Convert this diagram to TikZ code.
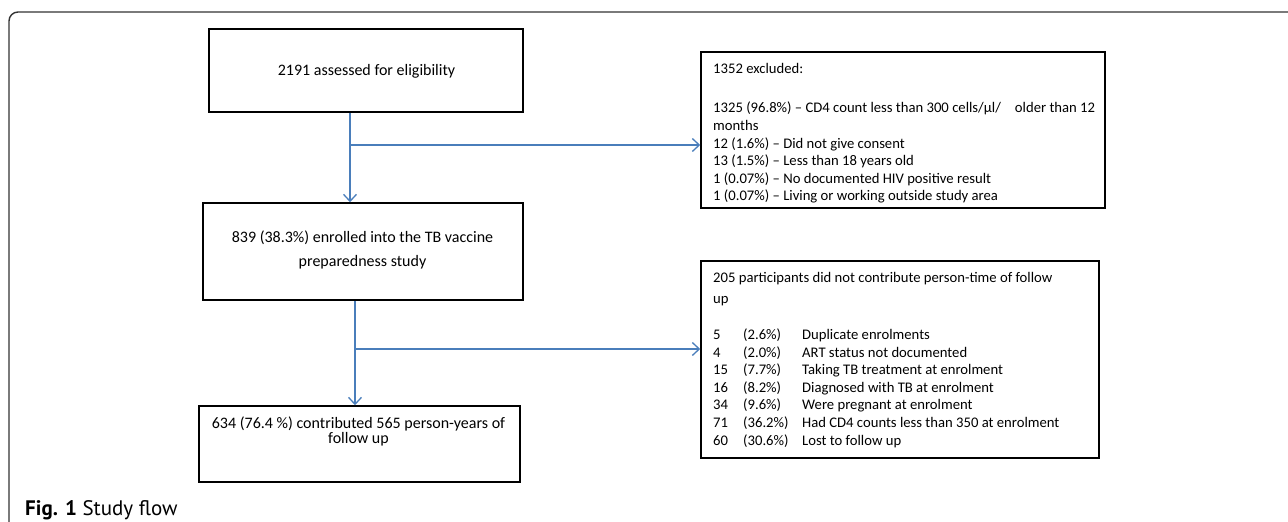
\documentclass[tikz,border=0pt]{standalone}
\usepackage{fontspec}
\setmainfont{Carlito}
\newfontfamily\capfont{PT Sans}
\usetikzlibrary{arrows.meta}
\definecolor{arrblue}{HTML}{4A7EBB}
\definecolor{framegray}{HTML}{333333}
\tikzset{
  box/.style={draw=black, line width=1.5pt, inner sep=0pt, fill=none},
  arr/.style={draw=arrblue, line width=1.3pt, -{Straight Barb[length=7pt,width=13pt,line width=1.3pt]}},
  txt/.style={inner sep=0pt, font=\fontsize{14.67}{17.6}\selectfont},
  bigtxt/.style={inner sep=0pt, font=\fontsize{16}{19.2}\selectfont},
}
\begin{document}
\begin{tikzpicture}[x=1pt,y=-1pt]
\useasboundingbox (0,0) rectangle (1288,522);
% outer frame
\draw[framegray, line width=1.4pt, rounded corners=9pt] (9,522) -- (9,12) -- (1288,12);
% boxes
\node[box, minimum width=314pt, minimum height=83pt] (b1) at (366,70.5) {};
\node[box, minimum width=320pt, minimum height=97pt] (b2) at (363,251.5) {};
\node[box, minimum width=321pt, minimum height=76pt] (b3) at (359.5,444) {};
\node[box, minimum width=404pt, minimum height=156pt] (r1) at (903,130) {};
\node[box, minimum width=398pt, minimum height=197pt] (r2) at (900,359.5) {};
% box texts
\node[bigtxt, anchor=base] (t1) at (366.5,75) {2191 assessed for eligibility};
\node[bigtxt, align=center] (t2) at (362.5,250) {839 (38.3\%) enrolled into the TB vaccine\\[4pt]preparedness study};
\node[bigtxt, align=center] (t3) at (358.5,431.5) {634 (76.4 \%) contributed 565 person-years of\\[-4pt]follow up};
\node[txt, align=left, anchor=north west] (tr1) at (713,63) {1352 excluded:\\[22pt]
1325 (96.8\%) – CD4 count less than 300 cells/µl/\hspace{14pt}older than 12\\
months\\
12 (1.6\%) – Did not give consent\\
13 (1.5\%) – Less than 18 years old\\
1 (0.07\%) – No documented HIV positive result\\
1 (0.07\%) – Living or working outside study area};
\node[txt, align=left, anchor=north west] (tr2) at (713,272) {205 participants did not contribute person-time of follow\\[4pt]
up\\[18pt]
\makebox[30pt][l]{5}\makebox[59pt][l]{(2.6\%)}Duplicate enrolments\\
\makebox[30pt][l]{4}\makebox[59pt][l]{(2.0\%)}ART status not documented\\
\makebox[30pt][l]{15}\makebox[59pt][l]{(7.7\%)}Taking TB treatment at enrolment\\
\makebox[30pt][l]{16}\makebox[59pt][l]{(8.2\%)}Diagnosed with TB at enrolment\\
\makebox[30pt][l]{34}\makebox[59pt][l]{(9.6\%)}Were pregnant at enrolment\\
\makebox[30pt][l]{71}\makebox[59pt][l]{(36.2\%)}Had CD4 counts less than 350 at enrolment\\
\makebox[30pt][l]{60}\makebox[59pt][l]{(30.6\%)}Lost to follow up};
% connectors
\coordinate (a1) at (350,0);
\coordinate (a2) at (355,0);
\coordinate (j1) at (350,145);
\coordinate (j2) at (355,349);
\draw[arr] (b1.south -| a1) -- (b2.north -| a1);
\draw[arr] (j1) -- (j1 -| r1.west);
\draw[arr] (b2.south -| a2) -- (b3.north -| a2);
\draw[arr] (j2) -- (j2 -| r2.west);
% caption
\node[inner sep=0pt, anchor=base west, font=\capfont\fontsize{21}{23}\selectfont] (cap) at (25,515.5) {\textbf{Fig. 1} Study flow};
\end{tikzpicture}
\end{document}
